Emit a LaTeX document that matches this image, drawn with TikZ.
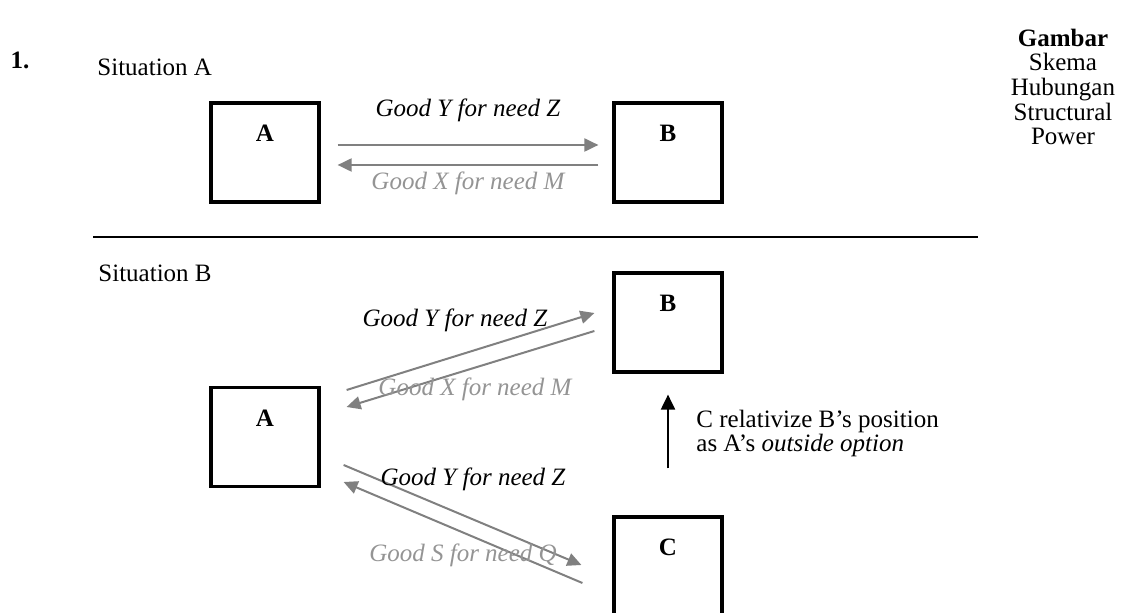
\documentclass[tikz,border=0pt]{standalone}
\usepackage{fontspec}
\setmainfont{Liberation Serif}
\usetikzlibrary{arrows.meta,positioning,calc}
\definecolor{arrgray}{gray}{0.5}
\definecolor{txtgray}{gray}{0.58}
\newcommand{\notefont}{\fontsize{12.5}{11.6}\selectfont\lineskiplimit=-10pt\relax}

\begin{document}
\begin{tikzpicture}[
  x=0.5pt, y=-0.5pt,
  font=\fontsize{12.5}{15}\selectfont,
  actor/.style={draw, line width=1.6pt, minimum width=54pt, minimum height=49.5pt, inner sep=0pt},
  actorlabel/.style={anchor=north, yshift=-8.3pt, font=\fontsize{12.5}{15}\selectfont\bfseries},
  goodtext/.style={font=\fontsize{12.5}{15}\selectfont\itshape, inner sep=1pt},
  garr/.style={-{Triangle[length=7pt, width=6.5pt]}, arrgray, line width=1pt},
  barr/.style={-{Triangle[length=7.5pt, width=7pt]}, black, line width=1pt}
]
\useasboundingbox (0,0) rectangle (1128,613);

% Heading
\node[font=\fontsize{12.5}{15}\selectfont\bfseries] (num) at (20,60) {1.};
\node[anchor=west, inner sep=0pt] (sitA) at (97,67) {Situation A};
\node[align=center, font=\fontsize{12.5}{12.35}\selectfont] (caption) at (1063,87) {\textbf{Gambar}\\Skema\\Hubungan\\Structural\\Power};

% Situation A
\node[actor, label={[actorlabel]north:A}] (sa) at (265,152.5) {};
\node[actor, label={[actorlabel]north:B}] (sb) at (668,152.5) {};
\draw[garr, shorten <=8.5pt, shorten >=7pt] ([yshift=3.75pt]sa.east) -- ([yshift=3.75pt]sb.west);
\draw[garr, shorten <=7pt, shorten >=8.5pt] ([yshift=-6.25pt]sb.west) -- ([yshift=-6.25pt]sa.east);
\node[goodtext] (ayz) at (468,110) {Good Y for need Z};
\node[goodtext, text=txtgray] (axm) at (468,183) {Good X for need M};

% Separator
\draw[line width=1.1pt] (93,237) -- (978,237);

% Situation B
\node[anchor=west, inner sep=0pt] (sitB) at (98,273) {Situation B};
\node[actor, label={[actorlabel]north:A}] (ba) at (265,437) {};
\node[actor, label={[actorlabel]north:B}] (bb) at (668,322.5) {};
\node[actor, label={[actorlabel]north:C}] (bc) at (668,566.5) {};

% A <-> B
\draw[garr] ($(ba.east)+(26,-47)$) -- ($(bb.west)+(-18,-9.5)$);
\draw[garr] ($(bb.west)+(-18,8.5)$) -- ($(ba.east)+(26,-30)$);
\node[goodtext] (byz) at (455,320) {Good Y for need Z};
\node[goodtext, text=txtgray] (bxm) at (475,389) {Good X for need M};

% A <-> C
\draw[garr] ($(ba.east)+(23,28)$) -- ($(bc.west)+(-31,-1.5)$);
\draw[garr] ($(bc.west)+(-30,16.5)$) -- ($(ba.east)+(23,45)$);
\node[goodtext] (cyz) at (473,479) {Good Y for need Z};
\node[goodtext, text=txtgray] (csq) at (463,555) {Good S for need Q};

% C -> B
\draw[barr, shorten <=23.5pt, shorten >=10.5pt] (bc.north) -- (bb.south);
\node[anchor=west, align=left, inner sep=0pt, font=\notefont] (note) at (696,433.5) {C relativize B’s position\\as A’s \textit{outside option}};

\end{tikzpicture}
\end{document}
